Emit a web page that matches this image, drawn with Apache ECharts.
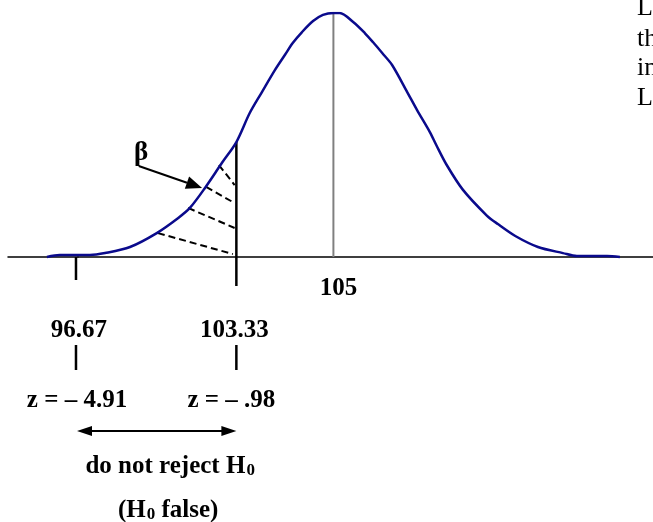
<!DOCTYPE html>
<html>
<head>
<meta charset="utf-8">
<script src="https://cdn.jsdelivr.net/npm/echarts@6/dist/echarts.min.js"></script>
<style>
  html, body { margin: 0; padding: 0; background: #fff; }
  #chart { width: 653px; height: 522px; }
</style>
</head>
<body>
<div id="chart"></div>
<script>
// Sampling distribution of the sample mean when the true mean is 105
// (relative height, peak = 1).
const curveX = [96.17, 96.39, 100.81, 101.07, 101.50, 101.96, 102.33, 102.53, 102.79, 103.08,
                103.33, 103.56, 103.77, 103.99, 104.17, 104.30, 104.46, 104.65, 104.82, 105.00,
                105.11, 105.34, 105.54, 105.68, 105.84, 106.01, 106.27, 106.44, 106.66, 106.77,
                106.95, 107.23, 107.64, 107.83, 108.13, 108.52, 108.95, 109.19, 109.71, 109.93];
const curveY = [0, 0.008, 0.008, 0.016, 0.041, 0.098, 0.160, 0.201, 0.283, 0.385,
                0.471, 0.590, 0.676, 0.765, 0.830, 0.877, 0.922, 0.967, 0.992, 1.000,
                1.000, 0.963, 0.918, 0.881, 0.836, 0.787, 0.676, 0.602, 0.512, 0.459,
                0.377, 0.275, 0.170, 0.135, 0.086, 0.041, 0.016, 0.004, 0.004, 0];

const trueMean = 105;
const meanLabel = '105';
const peakHeight = 1.0;

// Acceptance region bounds and their z-scores
const criticalValues = [96.67, 103.33];
const criticalLabels = ['96.67', '103.33'];
const zLabels = ['z = \u2013 4.91', 'z = \u2013 .98'];
const upperCriticalHeight = 0.471;   // curve height at 103.33

// Hatching of the beta area: start on the curve, end at the 103.33 line
const hatchStartX = [103.03, 102.81, 102.50, 101.98];
const hatchStartY = [0.377, 0.287, 0.201, 0.098];
const hatchEndX = [103.30, 103.30, 103.30, 103.27];
const hatchEndY = [0.295, 0.221, 0.119, 0.012];

// Beta pointer
const betaText = '\u03b2';
const betaLabelAt = [101.69, 0.425];
const betaArrowFrom = [101.65, 0.373];
const betaArrowTo = [102.74, 0.283];

const regionTitle = ['{b|do not reject H}{s|0}', '{b|(H}{s|0}{b| false)}'];

const SERIF = '"Liberation Serif", "Times New Roman", serif';
const boldFont = (size) => 'bold ' + size + 'px ' + SERIF;
const richSub = {
  b: { font: boldFont(25), fill: '#000', lineHeight: 30, verticalAlign: 'bottom' },
  s: { font: boldFont(17), fill: '#000', lineHeight: 30, verticalAlign: 'bottom', padding: [0, 0, 0, 1] }
};

function arrowHead(tip, from, len, half) {
  const dx = tip[0] - from[0], dy = tip[1] - from[1];
  const d = Math.sqrt(dx * dx + dy * dy);
  const ux = dx / d, uy = dy / d;
  const bx = tip[0] - ux * len, by = tip[1] - uy * len;
  return [[tip[0], tip[1]], [bx - uy * half, by + ux * half], [bx + uy * half, by - ux * half]];
}

function renderAnnotations(params, api) {
  const children = [];
  const meanPt = api.coord([trueMean, 0]);
  const axisY = meanPt[1];
  const lowPt = api.coord([criticalValues[0], 0]);
  const upPt = api.coord([criticalValues[1], 0]);

  // mean line
  const peakPt = api.coord([trueMean, peakHeight]);
  children.push({ type: 'line', shape: { x1: meanPt[0], y1: axisY, x2: peakPt[0], y2: peakPt[1] - 1 },
    style: { stroke: '#808080', lineWidth: 2 } });

  // hatching
  for (let i = 0; i < hatchStartX.length; i++) {
    const a = api.coord([hatchStartX[i], hatchStartY[i]]);
    const b = api.coord([hatchEndX[i], hatchEndY[i]]);
    children.push({ type: 'line', shape: { x1: a[0], y1: a[1], x2: b[0], y2: b[1] },
      style: { stroke: '#000', lineWidth: 2, lineDash: [7, 4] } });
  }

  // critical value 103.33 line, critical 96.67 tick
  const upTop = api.coord([criticalValues[1], upperCriticalHeight]);
  children.push({ type: 'line', shape: { x1: upPt[0], y1: upTop[1], x2: upPt[0], y2: axisY + 29 },
    style: { stroke: '#000', lineWidth: 2.5 } });
  children.push({ type: 'line', shape: { x1: lowPt[0], y1: axisY, x2: lowPt[0], y2: axisY + 23 },
    style: { stroke: '#000', lineWidth: 2.5 } });

  // beta pointer
  const bf = api.coord(betaArrowFrom), bt = api.coord(betaArrowTo);
  const head = arrowHead(bt, bf, 16, 6.5);
  children.push({ type: 'line', shape: { x1: bf[0], y1: bf[1], x2: (head[1][0] + head[2][0]) / 2, y2: (head[1][1] + head[2][1]) / 2 },
    style: { stroke: '#000', lineWidth: 2 } });
  children.push({ type: 'polygon', shape: { points: head }, style: { fill: '#000' } });
  const bl = api.coord(betaLabelAt);
  children.push({ type: 'text', x: bl[0], y: bl[1],
    style: { text: betaText, font: boldFont(27), fill: '#000', align: 'center', verticalAlign: 'middle' } });

  // mean label
  children.push({ type: 'text', x: meanPt[0] + 5, y: axisY + 32,
    style: { text: meanLabel, font: boldFont(25), fill: '#000', align: 'center', verticalAlign: 'middle' } });

  // critical labels, connectors, z-scores
  const pts = [lowPt, upPt];
  const labelShift = [3, -2];
  const zShift = [1, -5];
  for (let i = 0; i < pts.length; i++) {
    const x = pts[i][0];
    children.push({ type: 'text', x: x + labelShift[i], y: axisY + 74,
      style: { text: criticalLabels[i], font: boldFont(25), fill: '#000', align: 'center', verticalAlign: 'middle' } });
    children.push({ type: 'line', shape: { x1: x, y1: axisY + 88, x2: x, y2: axisY + 113 },
      style: { stroke: '#000', lineWidth: 2.5 } });
    children.push({ type: 'text', x: x + zShift[i], y: axisY + 144,
      style: { text: zLabels[i], font: boldFont(25), fill: '#000', align: 'center', verticalAlign: 'middle' } });
  }

  // double-headed arrow spanning the acceptance region
  const ay = axisY + 174;
  const left = [lowPt[0] + 1, ay], right = [upPt[0], ay];
  const hl = arrowHead(left, right, 15, 5), hr = arrowHead(right, left, 15, 5);
  children.push({ type: 'line', shape: { x1: left[0] + 12, y1: ay, x2: right[0] - 12, y2: ay },
    style: { stroke: '#000', lineWidth: 2 } });
  children.push({ type: 'polygon', shape: { points: hl }, style: { fill: '#000' } });
  children.push({ type: 'polygon', shape: { points: hr }, style: { fill: '#000' } });

  const midX = (lowPt[0] + upPt[0]) / 2;
  children.push({ type: 'text', x: midX + 14, y: axisY + 207,
    style: { text: regionTitle[0], rich: richSub, align: 'center', verticalAlign: 'middle' } });
  children.push({ type: 'text', x: midX + 12, y: axisY + 251,
    style: { text: regionTitle[1], rich: richSub, align: 'center', verticalAlign: 'middle' } });

  return { type: 'group', children: children };
}

const chart = echarts.init(document.getElementById('chart'), null, { renderer: 'canvas' });

const option = {
  animation: false,
  backgroundColor: '#fff',
  grid: { left: 8, right: 0, top: 13, bottom: 21 },
  xAxis: {
    type: 'value',
    min: 95.5,
    max: 110.5,
    breaks: [{ start: 96.7, end: 100.6, gap: 0 }],
    breakArea: { show: false },
    axisLine: { show: true, onZero: true, lineStyle: { color: '#000', width: 1.5 } },
    axisTick: { show: false },
    axisLabel: { show: false },
    splitLine: { show: false }
  },
  yAxis: {
    type: 'value',
    min: -1,
    max: 1,
    show: false
  },
  graphic: [
    { type: 'text', x: 637, y: 8, style: { text: 'L', font: '26px ' + SERIF, fill: '#000', verticalAlign: 'middle' } },
    { type: 'text', x: 637, y: 39, style: { text: 'th', font: '26px ' + SERIF, fill: '#000', verticalAlign: 'middle' } },
    { type: 'text', x: 637, y: 68, style: { text: 'in', font: '26px ' + SERIF, fill: '#000', verticalAlign: 'middle' } },
    { type: 'text', x: 637, y: 98, style: { text: 'L', font: '26px ' + SERIF, fill: '#000', verticalAlign: 'middle' } }
  ],
  series: [
    {
      type: 'custom',
      clip: false,
      silent: true,
      z: 1,
      data: [[trueMean, 0]],
      renderItem: renderAnnotations
    },
    {
      type: 'line',
      z: 3,
      silent: true,
      showSymbol: false,
      smooth: 0.3,
      data: curveX.map((x, i) => [x, curveY[i]]),
      lineStyle: { color: '#0a0a8c', width: 2.5 }
    }
  ]
};

chart.setOption(option);
</script>
</body>
</html>
